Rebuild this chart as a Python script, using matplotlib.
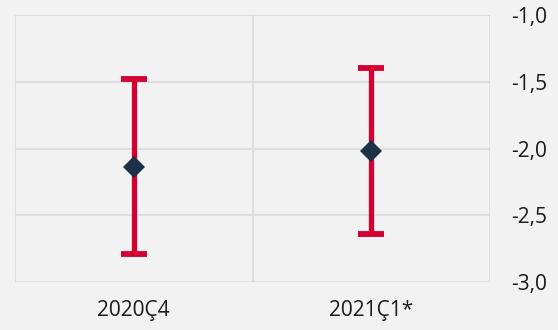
import matplotlib
matplotlib.use("Agg")
import matplotlib.pyplot as plt
import numpy as np

categories = ["2020Ç4", "2021Ç1*"]
center = [-2.14, -2.02]
low = [-2.79, -2.64]
high = [-1.48, -1.40]
yticks = [-3.0, -2.5, -2.0, -1.5, -1.0]
ytick_labels = ["-3,0", "-2,5", "-2,0", "-1,5", "-1,0"]

plt.rcParams['font.family'] = ['Open Sans', 'DejaVu Sans']
bg = "#f2f2f2"
fig = plt.figure(figsize=(5.58, 3.30), dpi=100, facecolor=bg)
ax = fig.add_axes([15/558, 1-282/330, (490-15)/558, (282-15)/330])
ax.set_facecolor(bg)

x = np.arange(len(categories))
c = np.array(center)
yerr = np.vstack([c - np.array(low), np.array(high) - c])
ax.errorbar(x, c, yerr=yerr, fmt='none', ecolor="#d50032", elinewidth=3.8,
            capsize=9.5, capthick=4.2, zorder=3)
ax.plot(x, c, linestyle='none', marker='D', ms=10.7, color="#1c3048",
        markeredgewidth=0, zorder=4)

ax.set_xlim(-0.5, len(categories) - 0.5)
ax.set_ylim(-3.0, -1.0)
ax.set_yticks(yticks)
ax.set_yticklabels(ytick_labels)
ax.yaxis.tick_right()
ax.set_xticks(x)
ax.set_xticklabels(categories)
ax.tick_params(axis='y', length=0, pad=15.5, labelsize=15, labelcolor="#1a1a1a")
ax.tick_params(axis='x', length=0, pad=13, labelsize=15, labelcolor="#1a1a1a")

gc = "#dadada"
for yv in yticks:
    ax.axhline(yv, color=gc, lw=1.2, zorder=1)
for xv in np.arange(-0.5, len(categories), 1.0):
    ax.axvline(xv, color=gc, lw=1.2, zorder=1)
for s in ax.spines.values():
    s.set_visible(False)

fig.savefig("out.png", dpi=100, facecolor=bg)
